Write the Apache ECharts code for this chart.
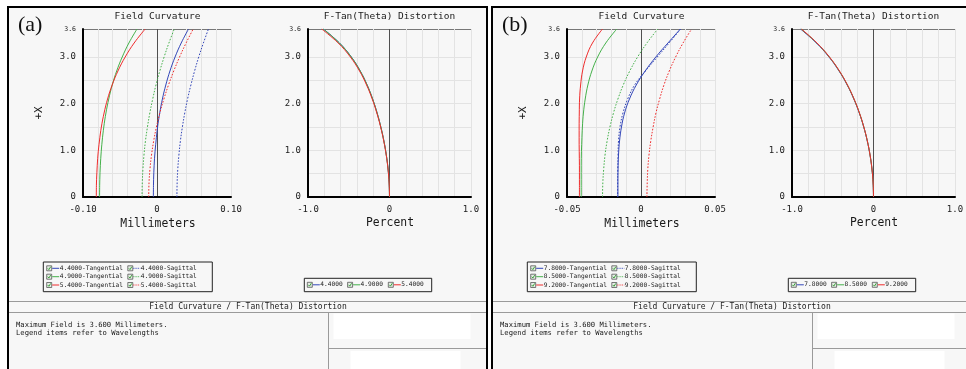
<!DOCTYPE html>
<html><head><meta charset="utf-8">
<script src="https://cdn.jsdelivr.net/npm/echarts@6/dist/echarts.min.js"></script>
<style>html,body{margin:0;padding:0;background:#fff}#c{width:966px;height:369px}</style>
</head><body><div id="c"></div>
<script>
// ---------- data ----------
const fieldY = [0, 0.3, 0.6, 0.9, 1.2, 1.5, 1.8, 2.1, 2.4, 2.7, 3.0, 3.3, 3.6];
const yTickValues = [0, 1, 2, 3, 3.6];
const yTickLabels = ['0', '1.0', '2.0', '3.0', '3.6'];

// panel (a)
const aWaves = ['4.4000', '4.9000', '5.4000'];
const aTan1 = [-0.0049, -0.0047, -0.0041, -0.0030, -0.0013, 0.0008, 0.0037, 0.0073, 0.0119, 0.0175, 0.0244, 0.0327, 0.0426];
const aTan2 = [-0.0776, -0.0774, -0.0768, -0.0757, -0.0741, -0.0719, -0.0690, -0.0652, -0.0605, -0.0545, -0.0470, -0.0380, -0.0270];
const aTan3 = [-0.0820, -0.0818, -0.0810, -0.0798, -0.0778, -0.0752, -0.0715, -0.0668, -0.0606, -0.0528, -0.0430, -0.0309, -0.0160];
const aSag1 = [0.0269, 0.0272, 0.0281, 0.0296, 0.0316, 0.0343, 0.0375, 0.0413, 0.0458, 0.0508, 0.0564, 0.0627, 0.0695];
const aSag2 = [-0.0202, -0.0199, -0.0190, -0.0176, -0.0156, -0.0129, -0.0097, -0.0058, -0.0014, 0.0038, 0.0096, 0.0161, 0.0233];
const aSag3 = [-0.0112, -0.0108, -0.0095, -0.0074, -0.0045, -0.0008, 0.0038, 0.0093, 0.0155, 0.0226, 0.0305, 0.0393, 0.0489];
const aDist1 = [0, -0.0044, -0.0176, -0.0391, -0.0686, -0.1061, -0.1517, -0.2068, -0.2742, -0.3587, -0.4680, -0.6136, -0.8112];
const aDist2 = [0, -0.0044, -0.0176, -0.0392, -0.0688, -0.1063, -0.1520, -0.2072, -0.2747, -0.3594, -0.4690, -0.6148, -0.8129];
const aDist3 = [0, -0.0045, -0.0180, -0.0401, -0.0704, -0.1088, -0.1556, -0.2121, -0.2812, -0.3679, -0.4800, -0.6293, -0.8320];
const aFcTickValues = [-0.1, 0, 0.1];
const aFcTickLabels = ['-0.10', '0', '0.10'];

// panel (b)
const bWaves = ['7.8000', '8.5000', '9.2000'];
const bTan1 = [-0.0156, -0.0156, -0.0155, -0.0152, -0.0145, -0.0132, -0.0111, -0.0078, -0.0032, 0.0028, 0.0100, 0.0182, 0.0266];
const bTan2 = [-0.0404, -0.0404, -0.0404, -0.0403, -0.0400, -0.0396, -0.0389, -0.0377, -0.0359, -0.0332, -0.0293, -0.0238, -0.0164];
const bTan3 = [-0.0416, -0.0416, -0.0416, -0.0417, -0.0418, -0.0418, -0.0417, -0.0415, -0.0408, -0.0395, -0.0370, -0.0328, -0.0260];
const bSag1 = [-0.0158, -0.0158, -0.0157, -0.0155, -0.0152, -0.0142, -0.0122, -0.0090, -0.0043, 0.0030, 0.0110, 0.0190, 0.0268];
const bSag2 = [-0.0260, -0.0258, -0.0252, -0.0243, -0.0229, -0.0210, -0.0186, -0.0156, -0.0120, -0.0076, -0.0023, 0.0040, 0.0113];
const bSag3 = [0.0040, 0.0042, 0.0046, 0.0054, 0.0066, 0.0082, 0.0101, 0.0126, 0.0155, 0.0191, 0.0234, 0.0284, 0.0342];
const bDist1 = [0, -0.0048, -0.0190, -0.0428, -0.0763, -0.1199, -0.1745, -0.2415, -0.3230, -0.4230, -0.5465, -0.7008, -0.8956];
const bDist2 = [0, -0.0047, -0.0189, -0.0425, -0.0757, -0.1190, -0.1731, -0.2396, -0.3205, -0.4197, -0.5422, -0.6953, -0.8885];
const bDist3 = [0, -0.0047, -0.0188, -0.0423, -0.0754, -0.1185, -0.1724, -0.2386, -0.3192, -0.4180, -0.5400, -0.6925, -0.8850];
const bFcTickValues = [-0.05, 0, 0.05];
const bFcTickLabels = ['-0.05', '0', '0.05'];

const distTickValues = [-1, 0, 1];
const distTickLabels = ['-1.0', '0', '1.0'];

const panelTags = ['(a)', '(b)'];
const fcTitle = 'Field Curvature';
const distTitle = 'F-Tan(Theta) Distortion';
const bottomTitle = 'Field Curvature / F-Tan(Theta) Distortion';
const commentLines = ['Maximum Field is 3.600 Millimeters.', 'Legend items refer to Wavelengths'];

// ---------- build ----------
const MONO = 'DejaVu Sans Mono';
const COLORS = ['#3346b8', '#44b04a', '#ee2c2c'];
const GRID = '#e3e3e3';

function fmt(vals, labels) {
  return function (v) {
    for (let i = 0; i < vals.length; i++) if (Math.abs(v - vals[i]) < 1e-7) {
      return Math.abs(vals[i] - 3.6) < 1e-7 ? '{s|' + labels[i] + '}' : labels[i];
    }
    return '';
  };
}

const panels = [
  { dx: 0, fcMin: -0.1, fcMax: 0.1, fcInt: 0.02, fcTV: aFcTickValues, fcTL: aFcTickLabels,
    waves: aWaves, tan: [aTan1, aTan2, aTan3], sag: [aSag1, aSag2, aSag3], dist: [aDist1, aDist2, aDist3] },
  { dx: 484, fcMin: -0.05, fcMax: 0.05, fcInt: 0.01, fcTV: bFcTickValues, fcTL: bFcTickLabels,
    waves: bWaves, tan: [bTan1, bTan2, bTan3], sag: [bSag1, bSag2, bSag3], dist: [bDist1, bDist2, bDist3] }
];

const grid = [], xAxis = [], yAxis = [], series = [], graphic = [];

const xSplit = Array.from({ length: 11 }, (_, i) => i === 5 ? '#505050' : GRID);
const ySplit = Array.from({ length: 9 }, (_, i) => i === 7 ? 'rgba(0,0,0,0)' : (i === 8 ? '#777' : GRID));

function addAxes(gi, left, width, min, max, interval, tv, tl) {
  grid.push({ left: left, top: 29, width: width, height: 168, outerBoundsMode: 'none' });
  xAxis.push({
    type: 'value', gridIndex: gi, min: min, max: max, interval: interval,
    axisLine: { onZero: false, lineStyle: { color: '#000', width: 2 } },
    axisTick: { show: false },
    axisLabel: { formatter: fmt(tv, tl), fontFamily: MONO, fontSize: 9, color: '#1a1a1a', margin: 8, showMinLabel: true, showMaxLabel: true },
    splitLine: { show: true, lineStyle: { color: xSplit, width: 1 } }
  });
  yAxis.push({
    type: 'value', gridIndex: gi, min: 0, max: 3.6, interval: 0.5,
    axisLine: { onZero: false, lineStyle: { color: '#000', width: 2 } },
    axisTick: { show: false },
    axisLabel: { formatter: fmt(yTickValues, yTickLabels), fontFamily: MONO, fontSize: 9, color: '#1a1a1a', margin: 7,
      showMinLabel: true, showMaxLabel: true, rich: { s: { fontFamily: MONO, fontSize: 6.5, color: '#222' } } },
    splitLine: { show: true, lineStyle: { color: ySplit, width: 1 } }
  });
}

function lineSeries(gi, name, xs, color, dashed) {
  return {
    type: 'line', name: name, xAxisIndex: gi, yAxisIndex: gi,
    data: fieldY.map((y, k) => [xs[k], y]),
    showSymbol: false, smooth: 0.4, silent: true, animation: false,
    lineStyle: { color: color, width: 1, type: dashed ? [1.6, 1.6] : 'solid' },
    itemStyle: { color: color }
  };
}

function T(x, y, text, size, opt) {
  return Object.assign({ type: 'text', x: x, y: y, silent: true, z: 10,
    style: Object.assign({ text: text, fill: '#1a1a1a', font: size + 'px "' + MONO + '"', textAlign: 'left', textVerticalAlign: 'middle' }, opt || {}) });
}
function L(x1, y1, x2, y2, color, w) {
  return { type: 'line', silent: true, z: 5, shape: { x1: x1, y1: y1, x2: x2, y2: y2 }, style: { stroke: color, lineWidth: w || 1 } };
}
function R(x, y, w, h, fill, stroke, lw, z) {
  return { type: 'rect', silent: true, z: z === undefined ? 1 : z, shape: { x: x, y: y, width: w, height: h }, style: { fill: fill, stroke: stroke || null, lineWidth: lw || 0 } };
}
function legendItem(x, y, color, dashed, label) {
  return [
    R(x, y - 2.5, 5, 5, '#e6ece6', '#444', 0.7, 10),
    { type: 'polyline', silent: true, z: 11, shape: { points: [[x + 1, y], [x + 2.2, y + 1.3], [x + 4, y - 1.6]] }, style: { stroke: '#2b9b2b', lineWidth: 0.9, fill: null } },
    { type: 'line', silent: true, z: 11, shape: { x1: x + 5.5, y1: y, x2: x + 12.5, y2: y }, style: { stroke: color, lineWidth: 1, lineDash: dashed ? [1.1, 1.1] : null } },
    T(x + 13, y, label, 6.2)
  ];
}

panels.forEach((p, pi) => {
  const dx = p.dx;
  const gFc = pi * 2, gD = pi * 2 + 1;
  addAxes(gFc, 83 + dx, 148, p.fcMin, p.fcMax, p.fcInt, p.fcTV, p.fcTL);
  addAxes(gD, 308 + dx, 163, -1, 1, 0.2, distTickValues, distTickLabels);
  for (let i = 0; i < 3; i++) {
    series.push(lineSeries(gFc, p.waves[i] + '-Tangential', p.tan[i], COLORS[i], false));
    series.push(lineSeries(gFc, p.waves[i] + '-Sagittal', p.sag[i], COLORS[i], true));
  }
  for (let i = 0; i < 3; i++) series.push(lineSeries(gD, p.waves[i], p.dist[i], COLORS[i], false));

  // panel frame
  graphic.push(R(8 + dx, 7, 479, 400, '#f7f7f7', '#000', 2, -10));
  // tag
  graphic.push(T(18 + dx, 25, panelTags[pi], 22, { font: '22px "Liberation Serif"', fill: '#111' }));
  // titles
  graphic.push(T(157.5 + dx, 17, fcTitle, 9.5, { textAlign: 'center' }));
  graphic.push(T(389.5 + dx, 16.5, distTitle, 9.5, { textAlign: 'center' }));
  // axis names
  graphic.push(T(158 + dx, 224, 'Millimeters', 11.4, { textAlign: 'center' }));
  graphic.push(T(390 + dx, 223.5, 'Percent', 11.4, { textAlign: 'center' }));
  graphic.push(Object.assign(T(39 + dx, 113, '+X', 11, { textAlign: 'center' }), { rotation: Math.PI / 2 }));

  // legends
  graphic.push(R(43.3 + dx, 262, 169, 29.7, null, '#222', 1, 9));
  const rows = [268.3, 276.7, 285];
  for (let i = 0; i < 3; i++) {
    legendItem(46.7 + dx, rows[i], COLORS[i], false, p.waves[i] + '-Tangential').forEach(e => graphic.push(e));
    legendItem(127.8 + dx, rows[i], COLORS[i], true, p.waves[i] + '-Sagittal').forEach(e => graphic.push(e));
  }
  graphic.push(R(304.3 + dx, 278.3, 127.4, 13.4, null, '#222', 1, 9));
  const dxs = [307.3, 347.6, 388.3];
  for (let i = 0; i < 3; i++) legendItem(dxs[i] + dx, 284.8, COLORS[i], false, p.waves[i]).forEach(e => graphic.push(e));

  // bottom section
  const right = pi === 0 ? 486 : 966;
  graphic.push(L(9 + dx, 301.5, right, 301.5, '#9a9a9a'));
  graphic.push(L(9 + dx, 312.5, right, 312.5, '#9a9a9a'));
  graphic.push(T(248 + dx, 307, bottomTitle, 8, { textAlign: 'center' }));
  graphic.push(T(16 + dx, 325.3, commentLines[0], 7.2));
  graphic.push(T(16 + dx, 333.5, commentLines[1], 7.2));
  graphic.push(L(328.5 + dx, 312.5, 328.5 + dx, 369, '#9a9a9a'));
  graphic.push(L(328.5 + dx, 348.5, right, 348.5, '#9a9a9a'));
  graphic.push(R(333.5 + dx, 313.5, 137, 25.5, '#ffffff', null, 0, 2));
  graphic.push(R(350.5 + dx, 351, 110, 18, '#ffffff', null, 0, 2));
});

const chart = echarts.init(document.getElementById('c'), null, { renderer: 'canvas' });
chart.setOption({
  animation: false,
  backgroundColor: '#ffffff',
  grid: grid, xAxis: xAxis, yAxis: yAxis, series: series,
  graphic: { elements: graphic }
});
</script></body></html>
